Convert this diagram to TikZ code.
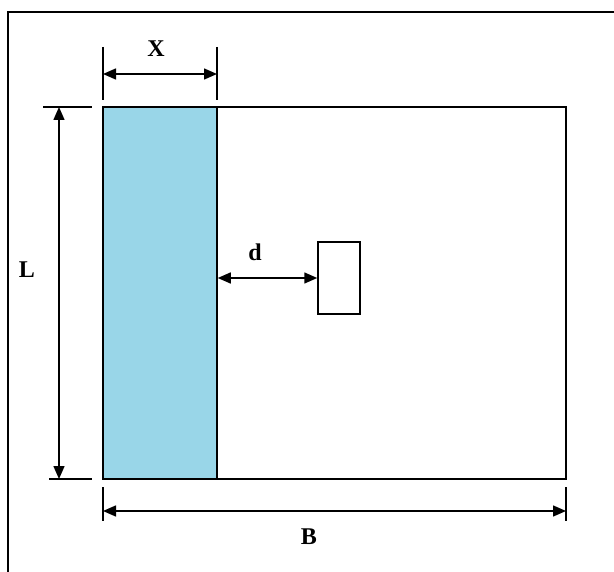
\documentclass[tikz,border=0pt]{standalone}
\usepackage{fontspec}
\setmainfont{Liberation Serif}
\usetikzlibrary{arrows.meta}
\definecolor{stripblue}{RGB}{153,214,232}
\begin{document}
\begin{tikzpicture}[x=1pt,y=-1pt,
  dimline/.style={line width=1.5pt,{Triangle[length=13pt,width=11pt]}-{Triangle[length=13pt,width=11pt]}},
  extline/.style={line width=1.4pt},
  lbl/.style={font=\fontsize{24}{28}\selectfont\bfseries,inner sep=0pt},
  box/.style={draw,line width=1.5pt,inner sep=0pt}]
\useasboundingbox (0,0) rectangle (614,572);
% outer frame (top and left)
\draw[line width=2pt] (614,12) -- (8,12) -- (8,572);
% main plate and strip
\node[box,minimum width=463pt,minimum height=372pt] (plate) at (334.5,293) {};
\node[box,fill=stripblue,minimum width=114pt,minimum height=372pt] (strip) at (160,293) {};
% small rectangle
\node[box,minimum width=42pt,minimum height=72pt] (small) at (339,278) {};
% X dimension
\coordinate (x1a) at (103,47); \coordinate (x1b) at (103,100);
\coordinate (x2a) at (217,47); \coordinate (x2b) at (217,100);
\draw[extline] (x1a) -- (x1b);
\draw[extline] (x2a) -- (x2b);
\coordinate (xl) at (103,74); \coordinate (xr) at (217,74);
\draw[dimline] (xl) -- (xr);
\node[lbl] (X) at (156,49) {X};
% L dimension
\draw[extline] (43,107) coordinate (l1a) -- (92,107) coordinate (l1b);
\draw[extline] (49,479) coordinate (l2a) -- (92,479) coordinate (l2b);
\coordinate (lt) at (59,107); \coordinate (lb) at (59,479);
\draw[dimline] (lt) -- (lb);
\node[lbl] (L) at (27,270) {L};
% d dimension
\coordinate (dl) at (strip.east |- small.west);
\draw[dimline] (dl) -- (small.west);
\node[lbl] (d) at (255,252) {d};
% B dimension
\draw[extline] (103,487) coordinate (b1a) -- (103,521) coordinate (b1b);
\draw[extline] (566,487) coordinate (b2a) -- (566,521) coordinate (b2b);
\coordinate (bl) at (103,511); \coordinate (br) at (566,511);
\draw[dimline] (bl) -- (br);
\node[lbl] (B) at (309,537) {B};
\end{tikzpicture}
\end{document}
